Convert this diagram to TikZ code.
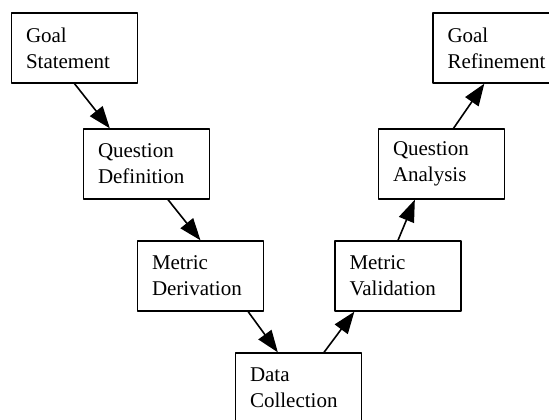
\documentclass[tikz,border=0pt]{standalone}
\usepackage{fontspec}
\setmainfont{Liberation Serif}
\usetikzlibrary{arrows.meta}
\begin{document}
\begin{tikzpicture}[x=1pt,y=-1pt,line join=round,
 stage/.style={draw,line width=1.3pt,minimum width=126pt,minimum height=70pt,
  text width=97pt,inner xsep=14.5pt,inner ysep=2pt,align=left,
  font=\fontsize{21}{26}\selectfont},
 arr/.style={line width=1.6pt,-{Triangle[length=22pt,width=16pt]}}]
 \useasboundingbox (0,0) rectangle (549,420);
 \node[stage] (gs) at (74.5,48) {Goal\\Statement};
 \node[stage] (qd) at (146.5,164) {Question\\Definition};
 \node[stage] (md) at (200.5,276) {Metric\\Derivation};
 \node[stage] (dc) at (298.5,388) {Data\\Collection};
 \node[stage] (mv) at (398,276) {Metric\\Validation};
 \node[stage] (qa) at (441.5,164) {Question\\Analysis};
 \node[stage] (gr) at (496,48) {Goal\\Refinement};
 \draw[arr] (gs.south) -- ([xshift=27pt]qd.north west);
 \draw[arr] ([xshift=21.5pt]qd.south) -- (md.north);
 \draw[arr] ([xshift=-16pt]md.south east) -- ([xshift=43pt]dc.north west);
 \draw[arr] ([xshift=25.5pt]dc.north) -- ([xshift=20pt]mv.south west);
 \draw[arr] (mv.north) -- ([xshift=37pt]qa.south west);
 \draw[arr] ([xshift=12pt]qa.north) -- ([xshift=52pt]gr.south west);
\end{tikzpicture}
\end{document}
